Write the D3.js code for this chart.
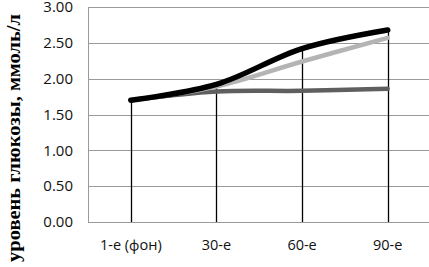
<!DOCTYPE html>
<html>
<head>
<meta charset="utf-8">
<script src="https://cdnjs.cloudflare.com/ajax/libs/d3/7.8.5/d3.min.js"></script>
<style>
  html, body { margin: 0; padding: 0; background: #fff; }
  svg { display: block; }
</style>
</head>
<body>
<svg id="chart" width="429" height="267"></svg>
<script>
// glucose level over time, three series
var categories = ["1-е (фон)", "30-е", "60-е", "90-е"];
var blackSeries = [1.70, 1.92, 2.42, 2.68];
var lightSeries = [1.70, 1.89, 2.24, 2.57];
var darkSeries = [1.70, 1.82, 1.83, 1.86];
var yTicks = [0, 0.5, 1, 1.5, 2, 2.5, 3];
var yTitle = "уровень глюкозы, ммоль/л";

var svg = d3.select("#chart");
// note: "top" is taken by window.top, so plotTop etc.
var plotLeft = 88, plotRight = 430.5, plotTop = 7, plotBottom = 222;

var x = d3.scaleBand().domain(categories).range([plotLeft, plotRight]);
var y = d3.scaleLinear().domain([0, 3]).range([plotBottom, plotTop]);
var cx = function (c) { return x(c) + x.bandwidth() / 2; };

// gridlines
svg.append("g").selectAll("line").data(yTicks).enter().append("line")
    .attr("x1", plotLeft).attr("x2", 429)
    .attr("y1", function (d) { return Math.round(y(d)) + 0.5; })
    .attr("y2", function (d) { return Math.round(y(d)) + 0.5; })
    .style("stroke", "#9a9a9a")
    .style("stroke-width", 1);

// vertical axis line
svg.append("line")
    .attr("x1", plotLeft + 0.5).attr("x2", plotLeft + 0.5)
    .attr("y1", plotTop).attr("y2", plotBottom)
    .style("stroke", "#9a9a9a");

// y axis labels
var yAxis = d3.axisLeft(y).tickValues(yTicks).tickFormat(d3.format(".2f")).tickSize(0).tickPadding(15);
var ya = svg.append("g").attr("transform", "translate(" + plotLeft + ",0)").call(yAxis);
ya.select(".domain").remove();
ya.selectAll("text")
    .style("font-family", "'Open Sans', sans-serif")
    .style("font-size", "15px")
    .style("fill", "#111");

// x axis labels
var xAxis = d3.axisBottom(x).tickSize(0).tickPadding(18);
var xa = svg.append("g").attr("transform", "translate(0," + plotBottom + ")").call(xAxis);
xa.select(".domain").remove();
xa.selectAll("text")
    .style("font-family", "'Open Sans', sans-serif")
    .style("font-size", "14.5px")
    .style("fill", "#111");

// drop lines from the highest point down to the axis
var maxVals = categories.map(function (c, i) {
    return Math.max(blackSeries[i], lightSeries[i], darkSeries[i]);
});
svg.append("g").selectAll("line").data(categories).enter().append("line")
    .attr("x1", function (d) { return Math.round(cx(d)) + 0.5; })
    .attr("x2", function (d) { return Math.round(cx(d)) + 0.5; })
    .attr("y1", function (d, i) { return y(maxVals[i]); })
    .attr("y2", plotBottom)
    .style("stroke", "#000")
    .style("stroke-width", 1.3);

var line = d3.line()
    .x(function (d, i) { return cx(categories[i]); })
    .y(function (d) { return y(d); })
    .curve(d3.curveCatmullRom.alpha(0.5));

function drawSeries(vals, color, w) {
    svg.append("path")
        .datum(vals)
        .attr("d", line)
        .style("fill", "none")
        .style("stroke", color)
        .style("stroke-width", w)
        .style("stroke-linecap", "round")
        .style("stroke-linejoin", "round");
}
drawSeries(darkSeries, "#5f5f5f", 4.5);
drawSeries(lightSeries, "#b4b4b4", 4.5);
drawSeries(blackSeries, "#000", 5.5);

// y axis title, squeezed to the length it has in the picture
svg.append("text")
    .attr("transform", "translate(20,138) rotate(-90)")
    .attr("text-anchor", "middle")
    .attr("textLength", 248)
    .attr("lengthAdjust", "spacingAndGlyphs")
    .style("font-family", "'Liberation Serif', serif")
    .style("font-weight", "bold")
    .style("font-size", "19px")
    .text(yTitle);
</script>
</body>
</html>
